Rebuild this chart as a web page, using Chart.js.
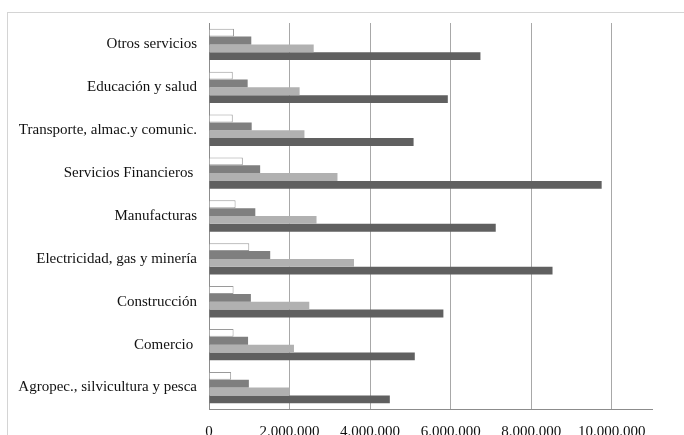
<!DOCTYPE html>
<html>
<head>
<meta charset="utf-8">
<script src="https://cdn.jsdelivr.net/npm/chart.js@4/dist/chart.umd.min.js"></script>
<style>
  html, body { margin: 0; padding: 0; background: #fff; overflow: hidden; }
  #frame {
    position: absolute; left: 7px; top: 12px; width: 700px; height: 500px;
    border: 1px solid #d4d4d4; box-sizing: border-box;
  }
  #wrap { position: absolute; left: 0; top: 0; width: 684px; height: 435px; }
</style>
</head>
<body>
<div id="frame"></div>
<div id="wrap"><canvas id="chart" width="684" height="435"></canvas></div>
<script>
// Sectors, top to bottom
const sectores = [
  'Otros servicios',
  'Educación y salud',
  'Transporte, almac.y comunic.',
  'Servicios Financieros ',
  'Manufacturas',
  'Electricidad, gas y minería',
  'Construcción',
  'Comercio ',
  'Agropec., silvicultura y pesca'
];

// Four series per sector, in the order drawn within each group
const serie1 = [620000, 590000, 590000, 840000, 660000, 1000000, 610000, 610000, 550000];
const serie2 = [1050000, 960000, 1060000, 1270000, 1150000, 1520000, 1040000, 970000, 990000];
const serie3 = [2600000, 2250000, 2370000, 3190000, 2670000, 3600000, 2490000, 2110000, 2000000];
const serie4 = [6740000, 5930000, 5080000, 9750000, 7120000, 8530000, 5820000, 5110000, 4490000];

// Value axis
const ejeMax = 11000000;
const ejeTicks = [0, 2000000, 4000000, 6000000, 8000000, 10000000];

const fmtMiles = v => String(Math.round(v)).replace(/\B(?=(\d{3})+(?!\d))/g, '.');

const fuente = { family: "'Liberation Serif', 'DejaVu Serif', serif", size: 15 };

new Chart(document.getElementById('chart'), {
  type: 'bar',
  data: {
    labels: sectores,
    datasets: [
      { data: serie1, backgroundColor: '#ffffff', borderColor: '#9a9a9a', borderWidth: 1 },
      { data: serie2, backgroundColor: '#7f7f7f', borderWidth: 0 },
      { data: serie3, backgroundColor: '#b1b1b1', borderWidth: 0 },
      { data: serie4, backgroundColor: '#606060', borderWidth: 0 }
    ]
  },
  options: {
    indexAxis: 'y',
    responsive: false,
    animation: false,
    categoryPercentage: 0.73,
    barPercentage: 1.0,
    layout: { padding: { left: 0, top: 23, right: 32, bottom: 0 } },
    plugins: { legend: { display: false }, tooltip: { enabled: false } },
    scales: {
      x: {
        min: 0,
        max: ejeMax,
        grid: { color: '#a8a8a8', drawTicks: false },
        border: { display: true, color: '#8c8c8c' },
        ticks: {
          padding: 14,
          color: '#111',
          font: fuente,
          maxRotation: 0,
          autoSkip: false,
          callback: v => fmtMiles(v)
        },
        afterBuildTicks: s => { s.ticks = ejeTicks.map(v => ({ value: v })); },
        afterFit: s => { s.height = 26; }
      },
      y: {
        grid: { display: false, drawTicks: false },
        border: { display: true, color: '#8c8c8c' },
        ticks: { padding: 12, color: '#111', font: fuente, autoSkip: false },
        afterFit: s => { s.width = 209; }
      }
    }
  }
});
</script>
</body>
</html>
